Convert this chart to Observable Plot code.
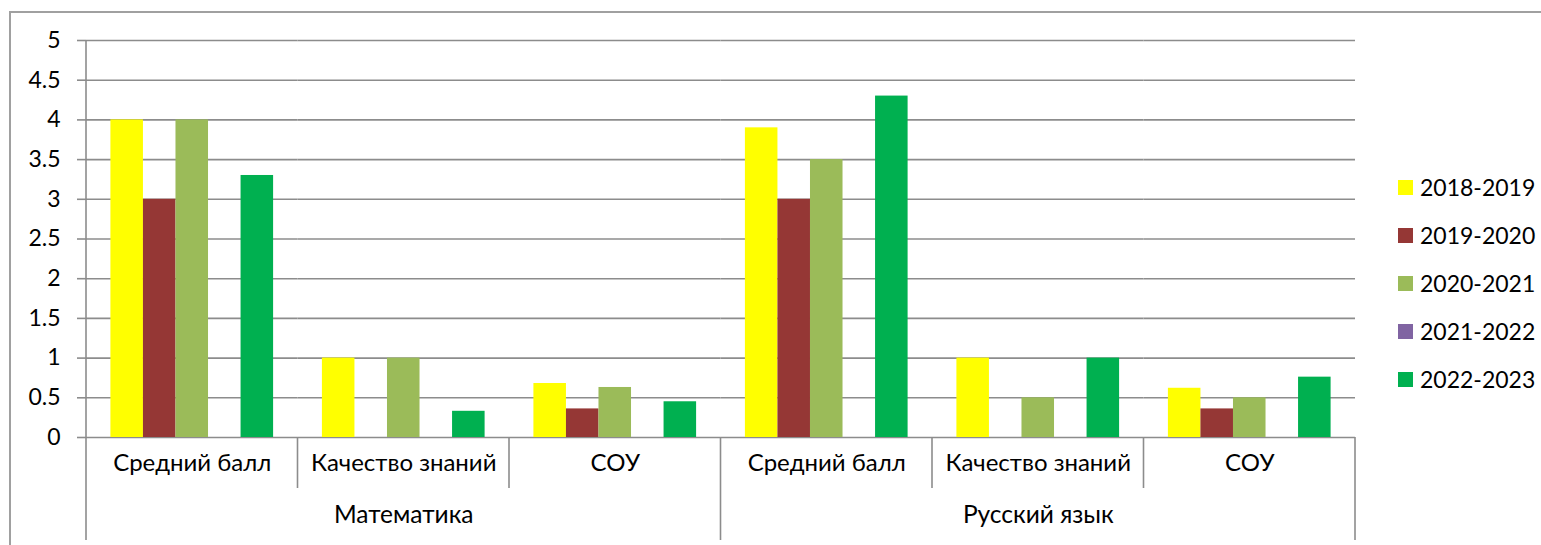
<!DOCTYPE html>
<html>
<head>
<meta charset="utf-8">
<script src="https://cdn.jsdelivr.net/npm/d3@7"></script>
<script src="https://cdn.jsdelivr.net/npm/@observablehq/plot@0.6"></script>
<style>
  html, body { margin: 0; padding: 0; background: #fff; }
  #wrap { position: relative; width: 1541px; height: 545px; overflow: hidden; font-family: Lato, sans-serif; }
  #border { position: absolute; left: 9px; top: 11px; width: 1600px; height: 600px; border-left: 2px solid #a0a0a0; border-top: 2px solid #a0a0a0; box-sizing: border-box; }
  #chart { position: absolute; left: 0; top: 0; }
  #legend { position: absolute; left: 1398px; top: 163px; font-family: Lato, sans-serif; font-size: 23px; color: #000; }
  .row { display: flex; align-items: center; height: 48px; }
  .sw { width: 15px; height: 15px; margin-right: 7px; }
</style>
</head>
<body>
<div id="wrap">
  <div id="border"></div>
  <div id="chart"></div>
  <div id="legend"></div>
</div>
<script>
const subjects = ["Математика", "Русский язык"];
const categories = ["Средний балл", "Качество знаний", "СОУ"];
const series = ["2018-2019", "2019-2020", "2020-2021", "2021-2022", "2022-2023"];
const colors = ["#ffff00", "#953735", "#9bbb59", "#8064a2", "#00b050"];
const yTicks = [0, 0.5, 1, 1.5, 2, 2.5, 3, 3.5, 4, 4.5, 5];

// values per series, order: Математика(Средний балл, Качество знаний, СОУ), Русский язык(...)
const v2018 = [4, 1, 0.68, 3.9, 1, 0.62];
const v2019 = [3, 0, 0.36, 3, 0, 0.36];
const v2020 = [4, 1, 0.63, 3.5, 0.5, 0.5];
const v2021 = [0, 0, 0, 0, 0, 0];
const v2022 = [3.3, 0.33, 0.45, 4.3, 1, 0.76];
const seriesValues = [v2018, v2019, v2020, v2021, v2022];

const keys = [];
const catData = [];
const subjData = [];
subjects.forEach((s, i) => {
  categories.forEach((c, j) => {
    const key = s + "|" + c;
    keys.push(key);
    catData.push({key, label: c});
    if (j === 1) subjData.push({key, label: s});
  });
});
const data = [];
series.forEach((name, k) => {
  seriesValues[k].forEach((v, idx) => data.push({key: keys[idx], series: name, value: v}));
});

const gridColor = "#8c8c8c";

const plot = Plot.plot({
  width: 1541,
  height: 545,
  marginLeft: 86,
  marginRight: 186,
  marginTop: 40,
  marginBottom: 108,
  style: {fontFamily: "Lato, sans-serif", fontSize: "23px", color: "#000", background: "transparent"},
  fx: {domain: keys, paddingInner: 0, paddingOuter: 0, round: false, axis: null, label: null},
  x: {domain: series, paddingInner: 0, paddingOuter: 0.75, round: false, axis: null, label: null},
  y: {domain: [0, 5], axis: null, label: null},
  color: {domain: series, range: colors},
  marks: [
    Plot.gridY(yTicks, {stroke: gridColor, strokeOpacity: 1, strokeWidth: 1.6}),
    Plot.axisY(yTicks, {tickSize: 9, tickPadding: 17, stroke: gridColor, strokeWidth: 1.6, fill: "#000", fontSize: 23, tickFormat: d => String(d), label: null}),
    Plot.barY(data, {fx: "key", x: "series", y: "value", fill: "series"}),
    Plot.text(catData, {fx: "key", text: "label", frameAnchor: "bottom", dy: 33, fontSize: 24, fill: "#000"}),
    Plot.text(subjData, {fx: "key", text: "label", frameAnchor: "bottom", dy: 85, fontSize: 24.5, fill: "#000"})
  ]
});
document.getElementById("chart").appendChild(plot);

// category/subject separators drawn from the plot's own scales
const fx = plot.scale("fx");
const y = plot.scale("y");
const bw = fx.bandwidth;
const svg = d3.select(plot);
const y0 = y.apply(0);
const g = svg.append("g").attr("stroke", gridColor).attr("stroke-width", 1.6);
for (let i = 0; i <= keys.length; i++) {
  const xPos = i < keys.length ? fx.apply(keys[i]) : fx.apply(keys[keys.length - 1]) + bw;
  const major = i % categories.length === 0;
  const top = i === 0 ? y.apply(5) : y0;
  const bottom = major ? y0 + 103 : y0 + 51;
  g.append("line").attr("x1", xPos).attr("x2", xPos).attr("y1", top).attr("y2", bottom);
}

// legend
const legend = d3.select("#legend");
series.forEach((s, i) => {
  const row = legend.append("div").attr("class", "row");
  row.append("div").attr("class", "sw").style("background", colors[i]);
  row.append("span").text(s);
});
</script>
</body>
</html>
